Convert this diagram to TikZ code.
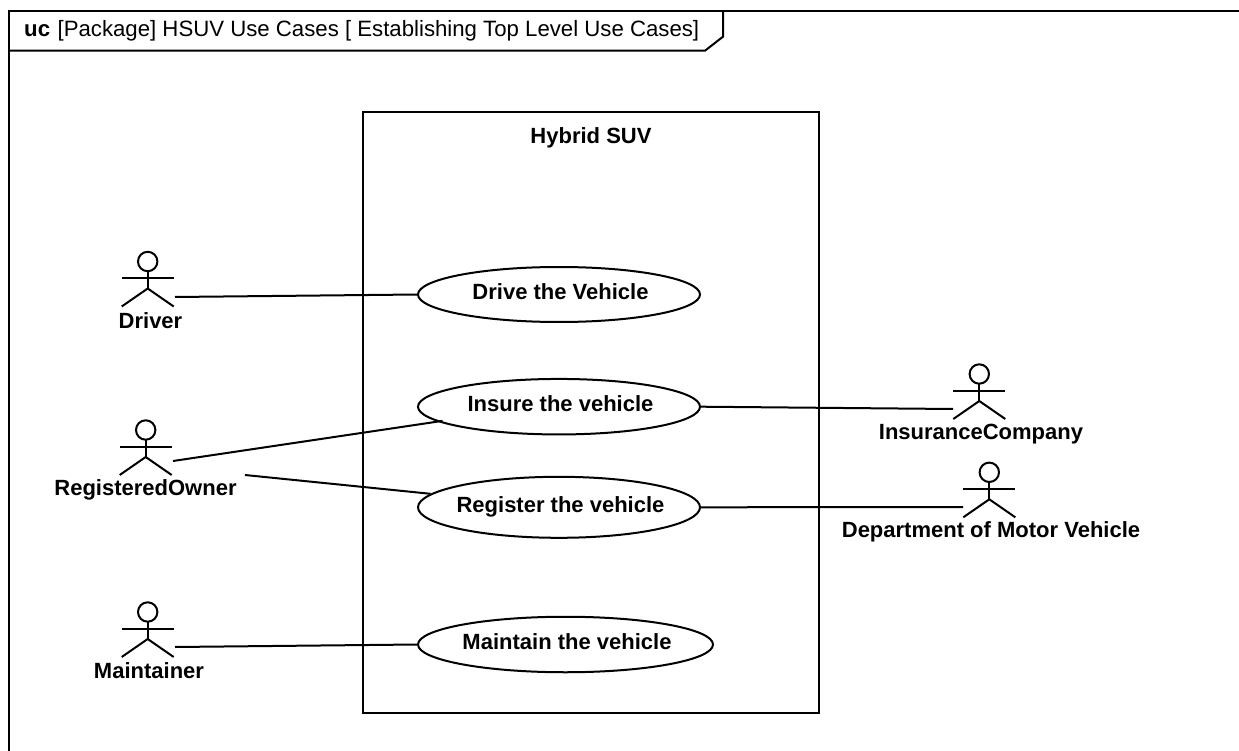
\documentclass[tikz,border=0pt]{standalone}
\usepackage{fontspec}
\setmainfont{Liberation Sans}
\usetikzlibrary{shapes.geometric}
\newcommand{\uctext}[1]{\hspace*{3pt}\makebox[0pt]{\raisebox{-5pt}[0pt][0pt]{#1}}}
\tikzset{
  line/.style={draw=black,line width=2pt},
  usecase/.style={line,ellipse,inner sep=0pt,font=\fontsize{22}{26}\selectfont\bfseries},
  lab/.style={font=\fontsize{22}{26}\selectfont\bfseries,inner sep=0pt},
  pics/actor/.style={code={
    \draw[line] (0,0) circle (9.7);
    \draw[line] (0,9.7) -- (0,27);
    \draw[line] (-26,17) -- (26,17);
    \draw[line] (-26,45) -- (0,27) -- (26,45);
  }}
}
\begin{document}
\begin{tikzpicture}[x=1pt,y=-1pt]
\useasboundingbox (0,0) rectangle (1239,751);
\draw[line] (9,751) -- (9,10.7) -- (1239,10.7);
\draw[line] (9,50.7) -- (705,50.7) -- (723,36.7) -- (723,10.7);
\node[anchor=west,inner sep=0pt,font=\fontsize{22.2}{26}\selectfont] (title) at (24,31) {\textbf{uc}\hspace{7.5pt}[Package]\ HSUV Use Cases [ Establishing Top Level Use Cases]};
\node[line,rectangle,minimum width=456.5pt,minimum height=600pt,inner sep=0pt] (suv) at (591,412.5) {};
\node[lab] (suvlabel) at (591,137.5) {Hybrid SUV};
\node[usecase,minimum width=282pt,minimum height=55pt] (drive) at (559,294.5) {\uctext{Drive the Vehicle}};
\node[usecase,minimum width=282pt,minimum height=55.5pt] (insure) at (559,406.7) {\uctext{Insure the vehicle}};
\node[usecase,minimum width=282pt,minimum height=61pt] (register) at (559,507.3) {\uctext{Register the vehicle}};
\node[usecase,minimum width=295pt,minimum height=55.5pt] (maintain) at (565.5,644.5) {\uctext{Maintain the vehicle}};
\pic at (147.7,261.5) {actor};
\pic at (145.7,430) {actor};
\pic at (147.7,612) {actor};
\pic at (979.3,374) {actor};
\pic at (989.3,472.3) {actor};
\node[lab] (driver) at (150.5,321) {Driver};
\node[lab] (owner) at (145.5,490) {RegisteredOwner};
\node[lab] (maintainer) at (149,671) {Maintainer};
\node[lab] (company) at (981,434) {InsuranceCompany};
\node[lab] (dmv) at (991,532) {Department of Motor Vehicle};
\coordinate (cdriver) at (175,297);
\coordinate (cowner1) at (173,461);
\coordinate (cowner2) at (245,475);
\coordinate (cmaint) at (175,647);
\coordinate (ccomp) at (953,409);
\coordinate (cdmv) at (963,507);
\draw[line] (cdriver) -- (drive.west);
\draw[line,shorten >=-5pt] (cowner1) -- (insure.187);
\draw[line] (cowner2) -- (register.174);
\draw[line] (cmaint) -- (maintain.west);
\draw[line] (insure.east) -- (ccomp);
\draw[line] (register.east) -- (cdmv);
\end{tikzpicture}
\end{document}
